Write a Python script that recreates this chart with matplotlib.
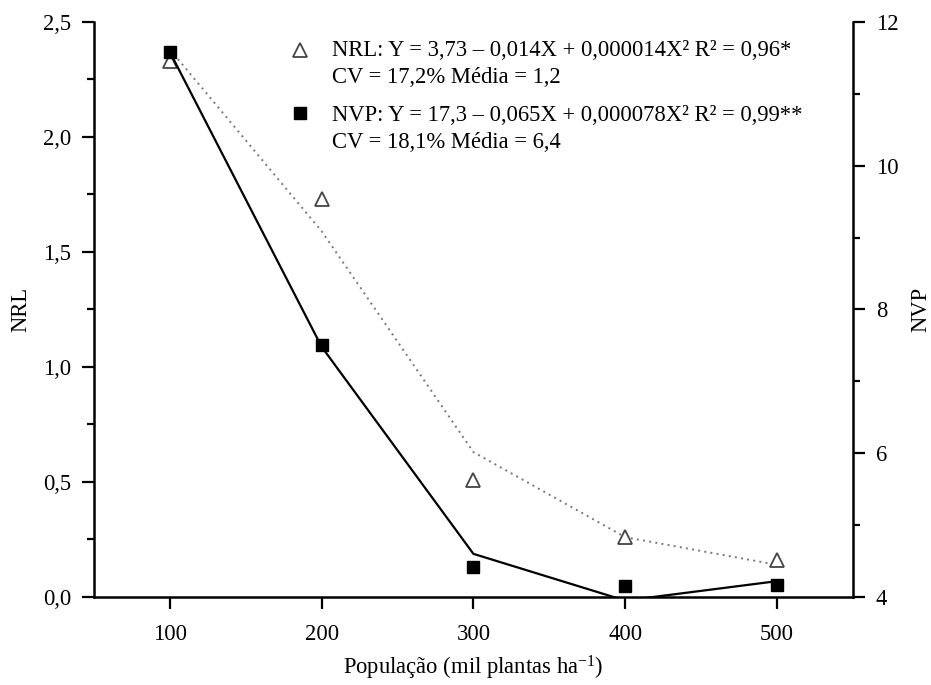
import matplotlib
matplotlib.use("Agg")
import matplotlib.pyplot as plt
from matplotlib.ticker import MultipleLocator

plt.rcParams["font.family"] = ["Liberation Serif", "DejaVu Serif"]
plt.rcParams["mathtext.fontset"] = "custom"
plt.rcParams["mathtext.rm"] = "Liberation Serif"
plt.rcParams["mathtext.it"] = "Liberation Serif:italic"

# population (mil plantas/ha)
populacao = [100, 200, 300, 400, 500]

# NRL observed (triangles) and fitted curve (dotted)
nrl_obs = [2.33, 1.73, 0.51, 0.26, 0.16]
nrl_fit = [2.38, 1.59, 0.63, 0.26, 0.14]

# NVP observed (squares) and fitted curve (solid)
nvp_obs = [11.58, 7.50, 4.42, 4.15, 4.16]
nvp_fit = [11.58, 7.48, 4.60, 3.95, 4.22]

FS = 16.3

fig = plt.figure(figsize=(9.31, 6.85), dpi=100)
ax = fig.add_axes([0.101, 0.1285, 0.815, 0.8395])
ax2 = ax.twinx()

# NRL on left axis
ax.plot(populacao, nrl_fit, linestyle=(0, (1, 2.2)), color="#777777", linewidth=1.4, zorder=2)
ax.plot(populacao, nrl_obs, linestyle="none", marker="^", markersize=10.5,
        markerfacecolor="white", markeredgecolor="#444444", markeredgewidth=1.3, zorder=4)

# NVP on right axis
ax2.plot(populacao, nvp_fit, color="black", linewidth=1.6, zorder=2)
ax2.plot(populacao, nvp_obs, linestyle="none", marker="s", markersize=9,
         color="black", zorder=4)

ax.set_xlim(50, 550)
ax.set_ylim(0, 2.5)
ax2.set_ylim(4, 12)

ax.set_xticks(populacao)
ax.yaxis.set_major_locator(MultipleLocator(0.5))
ax.yaxis.set_minor_locator(MultipleLocator(0.25))
ax2.yaxis.set_major_locator(MultipleLocator(2))
ax2.yaxis.set_minor_locator(MultipleLocator(1))
ax.set_yticklabels([f"{v:.1f}".replace(".", ",") for v in ax.get_yticks()])

for a in (ax, ax2):
    a.spines["top"].set_visible(False)
    for s in a.spines.values():
        s.set_linewidth(1.8)
    a.tick_params(which="major", length=8.5, width=1.6, labelsize=FS, pad=8)
    a.tick_params(which="minor", length=5, width=1.6)
ax.tick_params(axis="x", pad=11)
ax.spines["right"].set_visible(False)
ax2.spines["left"].set_visible(False)
ax2.spines["bottom"].set_visible(False)

ax.set_ylabel("NRL", fontsize=FS, labelpad=8)
ax2.set_ylabel("NVP", fontsize=FS, rotation=90, labelpad=9)
ax.set_xlabel(r"População (mil plantas ha$^{-1}$)", fontsize=FS, labelpad=6)

# legend-like annotation block
ax2.plot([0.271], [0.951], transform=ax2.transAxes, marker="^", markersize=10.5,
         markerfacecolor="white", markeredgecolor="#444444", markeredgewidth=1.3,
         linestyle="none", clip_on=False)
ax2.plot([0.271], [0.842], transform=ax2.transAxes, marker="s", markersize=9,
         color="black", linestyle="none", clip_on=False)
ax2.text(0.313, 0.951, "NRL: Y = 3,73 – 0,014X + 0,000014X² R² = 0,96*",
         transform=ax2.transAxes, fontsize=FS, va="center", ha="left")
ax2.text(0.313, 0.903, "CV = 17,2% Média = 1,2",
         transform=ax2.transAxes, fontsize=FS, va="center", ha="left")
ax2.text(0.313, 0.838, "NVP: Y = 17,3 – 0,065X + 0,000078X² R² = 0,99**",
         transform=ax2.transAxes, fontsize=FS, va="center", ha="left")
ax2.text(0.313, 0.790, "CV = 18,1% Média = 6,4",
         transform=ax2.transAxes, fontsize=FS, va="center", ha="left")

fig.savefig("out.png", dpi=100)
